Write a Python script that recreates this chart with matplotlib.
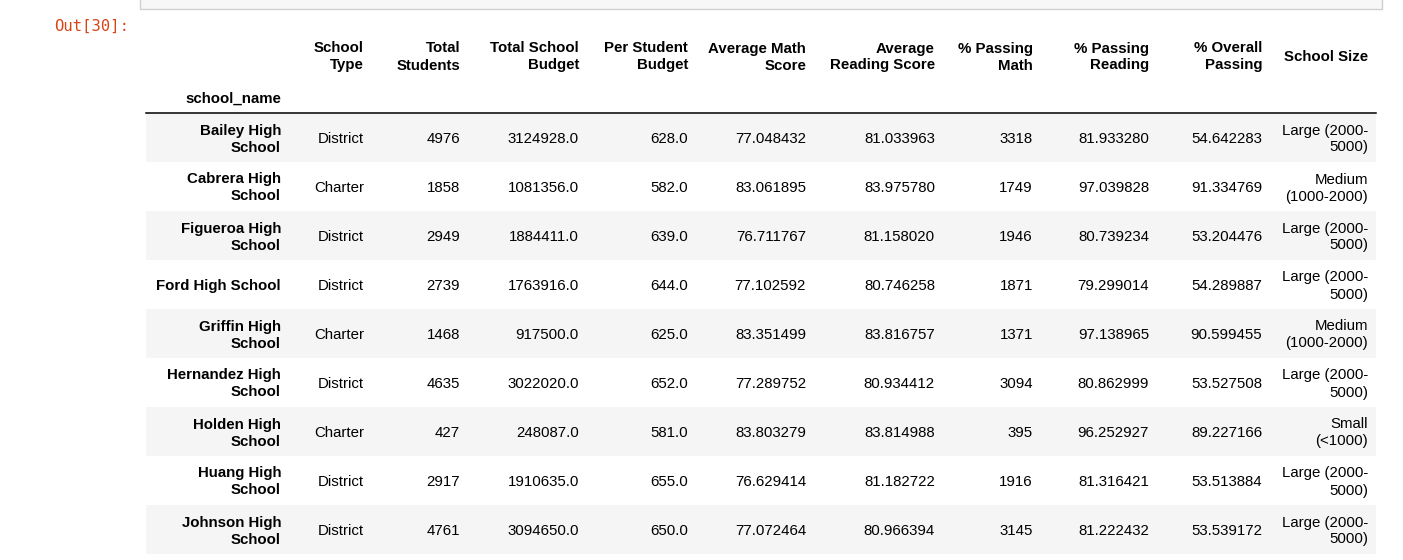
"""
Pandas DataFrame output (school summary) redrawn as a matplotlib table image.
"""

import matplotlib
matplotlib.use("Agg")
import matplotlib.pyplot as plt
from matplotlib.patches import Rectangle

plt.rcParams["font.family"] = ["Liberation Sans", "DejaVu Sans"]

# -----------------------------
# Table data
# -----------------------------
school_names = [
    "Bailey High\nSchool", "Cabrera High\nSchool", "Figueroa High\nSchool",
    "Ford High School", "Griffin High\nSchool", "Hernandez High\nSchool",
    "Holden High\nSchool", "Huang High\nSchool", "Johnson High\nSchool",
]
school_type = ["District", "Charter", "District", "District", "Charter",
               "District", "Charter", "District", "District"]
total_students = [4976, 1858, 2949, 2739, 1468, 4635, 427, 2917, 4761]
total_budget = [3124928.0, 1081356.0, 1884411.0, 1763916.0, 917500.0,
                3022020.0, 248087.0, 1910635.0, 3094650.0]
per_student_budget = [628.0, 582.0, 639.0, 644.0, 625.0, 652.0, 581.0, 655.0, 650.0]
avg_math = [77.048432, 83.061895, 76.711767, 77.102592, 83.351499,
            77.289752, 83.803279, 76.629414, 77.072464]
avg_reading = [81.033963, 83.975780, 81.158020, 80.746258, 83.816757,
               80.934412, 83.814988, 81.182722, 80.966394]
pct_pass_math = [3318, 1749, 1946, 1871, 1371, 3094, 395, 1916, 3145]
pct_pass_reading = [81.933280, 97.039828, 80.739234, 79.299014, 97.138965,
                    80.862999, 96.252927, 81.316421, 81.222432]
pct_overall = [54.642283, 91.334769, 53.204476, 54.289887, 90.599455,
               53.527508, 89.227166, 53.513884, 53.539172]
school_size = ["Large (2000-\n5000)", "Medium\n(1000-2000)", "Large (2000-\n5000)",
               "Large (2000-\n5000)", "Medium\n(1000-2000)", "Large (2000-\n5000)",
               "Small\n(<1000)", "Large (2000-\n5000)", "Large (2000-\n5000)"]

headers = ["School\nType", "Total\nStudents", "Total School\nBudget",
           "Per Student\nBudget", "Average Math\nScore", "Average\nReading Score",
           "% Passing\nMath", "% Passing\nReading", "% Overall\nPassing", "School Size"]
index_name = "school_name"
prompt = "Out[30]:"

# -----------------------------
# Layout (pixels)
# -----------------------------
W, H = 1403, 560
FS = 10.8
LINE_H = 17
TABLE_L, TABLE_R = 146, 1376
INDEX_RIGHT = 281
COL_RIGHT = [364, 460, 579, 688, 806, 935, 1033, 1149, 1262, 1368]
HEADER_MID = 55.5
INDEX_NAME_Y = 97
RULE_Y = 112.5
ROW_TOP = 113
ROW_H = 49
STRIPE = "#f5f5f5"


def draw_lines(ax, x, yc, text, **kw):
    """Right-aligned multi-line text centred vertically on yc."""
    lines = text.split("\n")
    n = len(lines)
    for i, line in enumerate(lines):
        y = yc + (i - (n - 1) / 2) * LINE_H
        ax.text(x, y + 5.5, line, ha="right", va="baseline", fontsize=FS,
                color="black", **kw)


fig = plt.figure(figsize=(W / 100, H / 100), dpi=100)
ax = fig.add_axes([0, 0, 1, 1])
ax.set_xlim(0, W)
ax.set_ylim(H, 0)
ax.axis("off")

# input cell remnant at top
ax.add_patch(Rectangle((139.5, -20), 1242.5, 28.5, facecolor="#f7f7f7",
                       edgecolor="#cfcfcf", linewidth=1))
ax.text(129, 26, prompt, ha="right", va="center", fontsize=11.2,
        family="DejaVu Sans Mono", color="#D84315")

# header
for x, h in zip(COL_RIGHT, headers):
    draw_lines(ax, x, HEADER_MID, h, fontweight="bold")
draw_lines(ax, INDEX_RIGHT, INDEX_NAME_Y, index_name, fontweight="bold")
ax.plot([TABLE_L, TABLE_R], [RULE_Y, RULE_Y], color="black", linewidth=1.1)

# body rows
columns = [
    school_type,
    [str(v) for v in total_students],
    [f"{v:.1f}" for v in total_budget],
    [f"{v:.1f}" for v in per_student_budget],
    [f"{v:.6f}" for v in avg_math],
    [f"{v:.6f}" for v in avg_reading],
    [str(v) for v in pct_pass_math],
    [f"{v:.6f}" for v in pct_pass_reading],
    [f"{v:.6f}" for v in pct_overall],
    school_size,
]

for r, name in enumerate(school_names):
    top = ROW_TOP + r * ROW_H
    if r % 2 == 0:
        ax.add_patch(Rectangle((TABLE_L, top), TABLE_R - TABLE_L, ROW_H,
                               facecolor=STRIPE, edgecolor="none"))
    yc = top + ROW_H / 2
    draw_lines(ax, INDEX_RIGHT, yc, name, fontweight="bold")
    for x, col in zip(COL_RIGHT, columns):
        draw_lines(ax, x, yc, col[r])

fig.savefig("out.png", dpi=100, facecolor="white")
